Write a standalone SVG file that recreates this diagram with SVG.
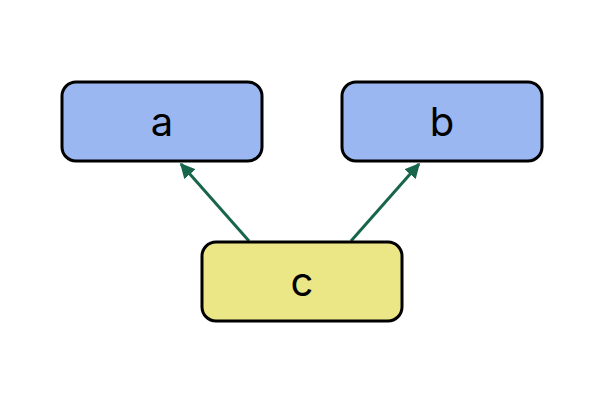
<svg xmlns="http://www.w3.org/2000/svg" width="600" height="400" viewBox="0 0 600 400">
<style>
.n rect{stroke:#000;stroke-width:3}
.n text{font-family:Inter,"DejaVu Sans",sans-serif;font-size:40px;text-anchor:middle;dominant-baseline:central;fill:#000}
.e{stroke:#17654a;stroke-width:3;fill:none;marker-end:url(#ah)}
</style>
<defs><marker id="ah" viewBox="0 0 10 10" refX="9" refY="5" markerWidth="5" markerHeight="5" orient="auto"><path d="M0,0L10,5L0,10z" fill="#17654a"/></marker></defs>
<rect width="600" height="400" fill="#fff"/>
<g id="connectors">
<line class="e" x1="249" y1="241" x2="181" y2="164"/>
<line class="e" x1="351" y1="241" x2="419" y2="164"/>
</g>
<g id="a" class="n"><rect x="62" y="82" width="200" height="79" rx="14" fill="#9bb7f2"/><text x="162" y="121">a</text></g>
<g id="b" class="n"><rect x="342" y="82" width="200" height="79" rx="14" fill="#9bb7f2"/><text x="442" y="121">b</text></g>
<g id="c" class="n"><rect x="202" y="242" width="200" height="79" rx="14" fill="#ebe787"/><text x="302" y="281">c</text></g>
</svg>
